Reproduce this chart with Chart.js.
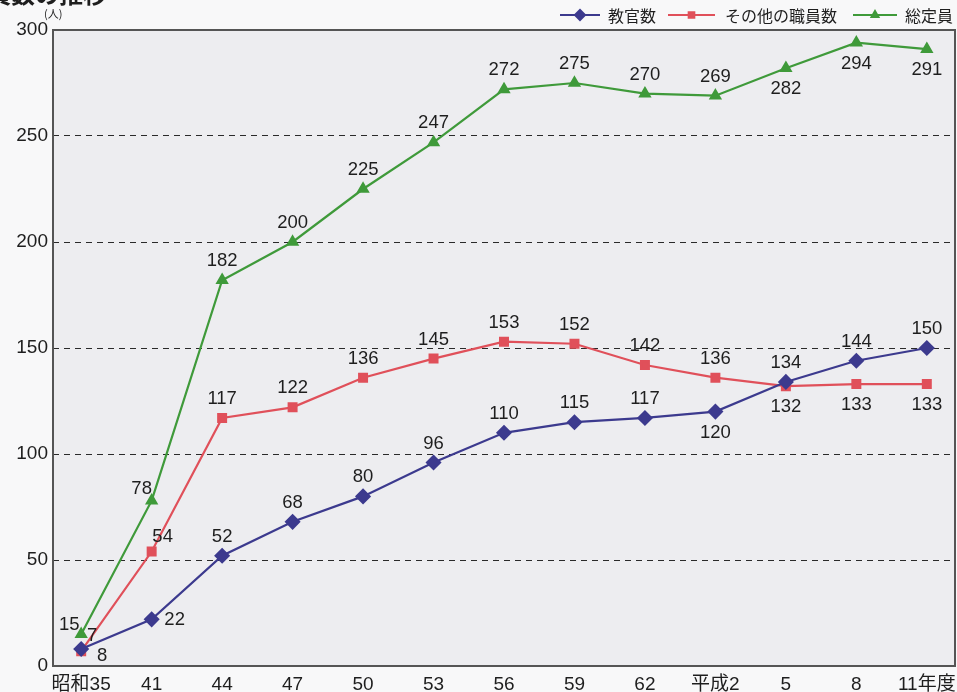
<!DOCTYPE html>
<html>
<head>
<meta charset="utf-8">
<script src="https://cdn.jsdelivr.net/npm/chart.js@4"></script>
<style>
  html, body { margin: 0; padding: 0; background: #f8f8f9; }
  canvas { display: block; }
</style>
</head>
<body>
<canvas id="staffChart" width="957" height="692"></canvas>
<script>
// data
const years = ['昭和35', '41', '44', '47', '50', '53', '56', '59', '62', '平成2', '5', '8', '11年度'];
const faculty = [8, 22, 52, 68, 80, 96, 110, 115, 117, 120, 134, 144, 150];
const otherStaff = [7, 54, 117, 122, 136, 145, 153, 152, 142, 136, 132, 133, 133];
const totalStaff = [15, 78, 182, 200, 225, 247, 272, 275, 270, 269, 282, 294, 291];

// where each value label sits relative to its point
const facultyPos = ['br', 'r', 'a', 'a', 'a', 'a', 'a', 'a', 'a', 'b', 'a', 'a', 'a'];
const otherPos = ['ar', 'ar', 'a', 'a', 'a', 'a', 'a', 'a', 'a', 'a', 'b', 'b', 'b'];
const totalPos = ['l', 'al', 'a', 'a', 'a', 'a', 'a', 'a', 'a', 'a', 'b', 'b', 'b'];

const NUM_FONT = '"Liberation Sans", "Noto Sans CJK JP", sans-serif';
const JP_FONT = '"Noto Sans CJK JP", "Liberation Sans", sans-serif';

const offsets = {
  a: [0, -19], b: [0, 21], r: [23, 1], l: [-12, -9],
  br: [21, 7], ar: [11, -15], al: [-10, -12]
};

const toXY = arr => arr.map((v, i) => ({ x: i, y: v }));

const valueLabels = {
  id: 'valueLabels',
  afterDatasetsDraw(chart) {
    const ctx = chart.ctx;
    ctx.save();
    ctx.font = '18.5px ' + NUM_FONT;
    ctx.fillStyle = '#1e1e1e';
    ctx.textAlign = 'center';
    ctx.textBaseline = 'middle';
    chart.data.datasets.forEach((ds, di) => {
      chart.getDatasetMeta(di).data.forEach((pt, i) => {
        const o = offsets[ds.labelPos[i]];
        ctx.fillText(ds.data[i].y, pt.x + o[0], pt.y + o[1]);
      });
    });
    ctx.restore();
  }
};

const frame = {
  id: 'frame',
  beforeDraw(chart) {
    const { ctx, chartArea: a } = chart;
    ctx.save();
    ctx.fillStyle = '#ededf0';
    ctx.fillRect(a.left, a.top, a.right - a.left, a.bottom - a.top);
    ctx.restore();
  },
  afterDraw(chart) {
    const { ctx, chartArea: a } = chart;
    ctx.save();
    ctx.strokeStyle = '#555';
    ctx.lineWidth = 2;
    ctx.strokeRect(a.left, a.top, a.right - a.left, a.bottom - a.top);

    // cut-off title and unit
    ctx.fillStyle = '#1e1e1e';
    ctx.font = 'bold 24px ' + JP_FONT;
    ctx.textAlign = 'left';
    ctx.textBaseline = 'alphabetic';
    ctx.fillText('職員数の推移', -37, 3);
    ctx.font = '11px ' + JP_FONT;
    ctx.fillText('(人)', 44, 18);

    // legend: line with marker + label
    const items = [
      { ds: 0, x1: 560, x2: 600, tx: 608 },
      { ds: 1, x1: 668, x2: 715, tx: 725 },
      { ds: 2, x1: 853, x2: 897, tx: 905 }
    ];
    ctx.font = '16px ' + JP_FONT;
    ctx.textBaseline = 'middle';
    items.forEach(it => {
      const ds = chart.data.datasets[it.ds];
      const y = 15;
      ctx.strokeStyle = ds.borderColor;
      ctx.lineWidth = 2;
      ctx.beginPath();
      ctx.moveTo(it.x1, y);
      ctx.lineTo(it.x2, y);
      ctx.stroke();
      Chart.helpers.drawPoint(ctx, {
        pointStyle: ds.pointStyle, radius: ds.pointRadius - 1.5, borderWidth: 1
      }, (it.x1 + it.x2) / 2, y);
      ctx.fillStyle = ds.borderColor;
      ctx.fill();
      ctx.fillStyle = '#1e1e1e';
      ctx.fillText(ds.label, it.tx, y + 1);
    });
    ctx.restore();
  }
};

new Chart(document.getElementById('staffChart').getContext('2d'), {
  type: 'line',
  data: {
    datasets: [{
      label: '教官数',
      data: toXY(faculty),
      labelPos: facultyPos,
      borderColor: '#3c3a8e',
      backgroundColor: '#3c3a8e',
      pointStyle: 'rectRot',
      pointRadius: 6.5,
      borderWidth: 2.2
    }, {
      label: 'その他の職員数',
      data: toXY(otherStaff),
      labelPos: otherPos,
      borderColor: '#e0505a',
      backgroundColor: '#e0505a',
      pointStyle: 'rect',
      pointRadius: 5.5,
      borderWidth: 2.2
    }, {
      label: '総定員',
      data: toXY(totalStaff),
      labelPos: totalPos,
      borderColor: '#3f9a3a',
      backgroundColor: '#3f9a3a',
      pointStyle: 'triangle',
      pointRadius: 5.5,
      borderWidth: 2.2
    }]
  },
  options: {
    responsive: false,
    animation: false,
    layout: { autoPadding: false, padding: { top: 30, right: 2, left: 0, bottom: 0 } },
    plugins: { legend: { display: false }, tooltip: { enabled: false } },
    scales: {
      x: {
        type: 'linear',
        min: -0.4,
        max: 12.4,
        afterBuildTicks: s => { s.ticks = years.map((_, i) => ({ value: i })); },
        afterFit: s => { s.height = 26; s.paddingLeft = 0; s.paddingRight = 0; },
        grid: { display: false },
        border: { display: false },
        ticks: {
          callback: v => years[v],
          autoSkip: false,
          maxRotation: 0,
          padding: -1,
          color: '#1e1e1e',
          font: { size: 19, family: NUM_FONT }
        }
      },
      y: {
        min: 0,
        max: 300,
        afterFit: s => { s.width = 53; s.paddingTop = 0; s.paddingBottom = 0; },
        border: { display: false, dash: [6, 5] },
        grid: {
          drawTicks: false,
          color: ctx => (ctx.tick.value === 0 || ctx.tick.value === 300) ? 'rgba(0,0,0,0)' : '#2a2a2a',
          lineWidth: 1
        },
        ticks: {
          stepSize: 50,
          padding: 5,
          color: '#1e1e1e',
          font: { size: 19, family: NUM_FONT }
        }
      }
    }
  },
  plugins: [frame, valueLabels]
});
</script>
</body>
</html>
